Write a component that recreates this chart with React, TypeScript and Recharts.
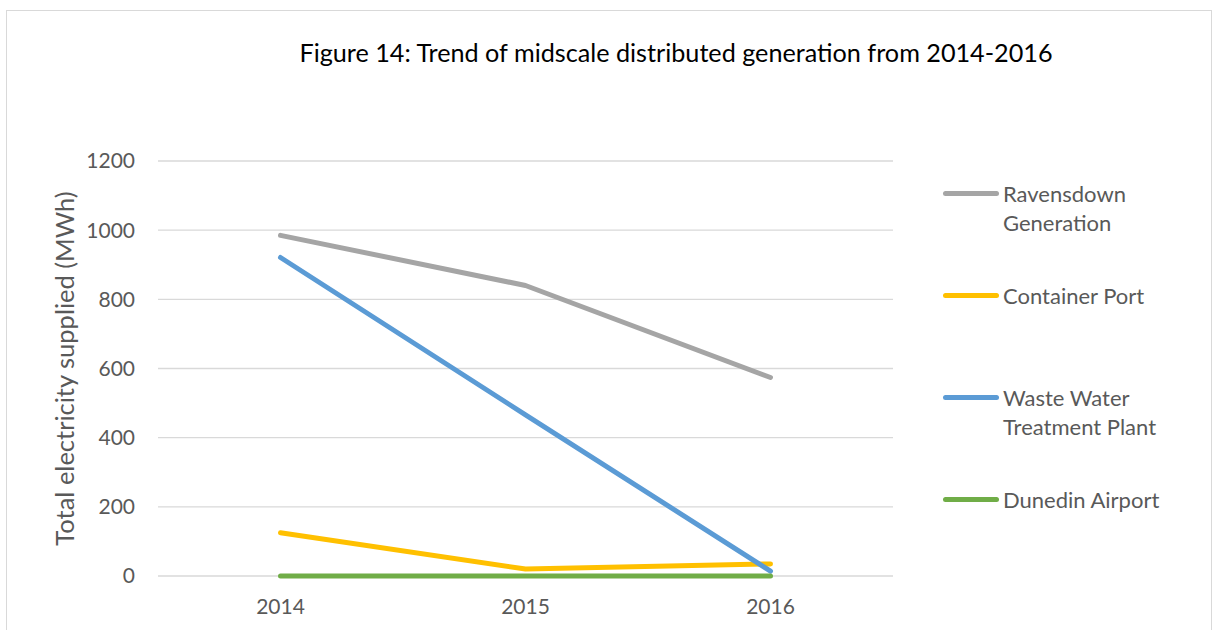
import React from 'react';
import { LineChart, Line, XAxis, YAxis, CartesianGrid, Legend } from 'recharts';

const years = ['2014', '2015', '2016'];
const ravensdown = [985, 840, 574];
const containerPort = [125, 20, 35];
const wasteWater = [921, 466, 14];
const dunedinAirport = [0, 0, 0];
const yTicks = [0, 200, 400, 600, 800, 1000, 1200];

const seriesNames = ['Ravensdown Generation', 'Container Port', 'Waste Water Treatment Plant', 'Dunedin Airport'];
const seriesKeys = ['ravensdown', 'containerPort', 'wasteWater', 'dunedinAirport'];
const seriesColors = ['#A5A5A5', '#FFC000', '#5B9BD5', '#70AD47'];

const data = years.map((y, i) => ({
  year: y,
  ravensdown: ravensdown[i],
  containerPort: containerPort[i],
  wasteWater: wasteWater[i],
  dunedinAirport: dunedinAirport[i],
}));

const FONT = 'Lato, "Open Sans", sans-serif';

const renderLegend = () => (
  <div style={{ position: 'relative', width: 260, height: 360 }}>
    {seriesNames.map((name, i) => (
      <div
        key={name}
        style={{
          position: 'absolute',
          left: 0,
          top: i * 102,
          display: 'flex',
          alignItems: 'flex-start',
          fontFamily: FONT,
          fontSize: 22,
          lineHeight: '29px',
          color: '#595959',
        }}
      >
        <div
          style={{
            width: 56,
            height: 5,
            borderRadius: 3,
            background: seriesColors[i],
            marginTop: 12,
            marginRight: 4,
            flex: 'none',
          }}
        />
        <div style={{ width: 175 }}>{name}</div>
      </div>
    ))}
  </div>
);

export default function App() {
  return (
    <div style={{ position: 'absolute', left: 0, top: 0, width: 1218, height: 630, background: '#fff', overflow: 'hidden' }}>
      <div
        style={{
          position: 'absolute',
          left: 6,
          top: 10,
          width: 1206,
          height: 700,
          border: '1.5px solid #D9D9D9',
          boxSizing: 'border-box',
        }}
      />
      <div
        style={{
          position: 'absolute',
          left: 676,
          top: 40,
          transform: 'translateX(-50%)',
          whiteSpace: 'nowrap',
          fontFamily: FONT,
          fontSize: 25.2,
          lineHeight: '25px',
          color: '#000',
        }}
      >
        Figure 14: Trend of midscale distributed generation from 2014-2016
      </div>
      <div style={{ position: 'absolute', left: 0, top: 0 }}>
        <LineChart width={1218} height={630} data={data} margin={{ top: 161, right: 65, bottom: 0, left: 0 }}>
          <CartesianGrid vertical={false} stroke="#D9D9D9" strokeWidth={1.3} />
          <XAxis
            dataKey="year"
            height={54}
            padding={{ left: 122.5, right: 122.5 }}
            tickLine={false}
            axisLine={false}
            tick={{ fill: '#595959', fontSize: 21, fontFamily: FONT }}
            tickMargin={17}
          />
          <YAxis
            width={158}
            domain={[0, 1200]}
            ticks={yTicks}
            tickLine={false}
            axisLine={false}
            tick={{ fill: '#595959', fontSize: 21, fontFamily: FONT }}
            tickMargin={17}
            label={{
              value: 'Total electricity supplied (MWh)',
              angle: -90,
              position: 'center',
              dx: -14,
              dy: 0,
              style: { fill: '#595959', fontSize: 25.5, fontFamily: FONT },
            }}
          />
          <Legend
            layout="vertical"
            verticalAlign="top"
            align="right"
            content={renderLegend}
            wrapperStyle={{ position: 'absolute', left: 943, top: 178.5, width: 260 }}
          />
          {seriesKeys.map((k, i) => (
            <Line
              key={k}
              dataKey={k}
              name={seriesNames[i]}
              stroke={seriesColors[i]}
              strokeWidth={5}
              strokeLinecap="round"
              strokeLinejoin="round"
              dot={false}
              activeDot={false}
              isAnimationActive={false}
            />
          ))}
        </LineChart>
      </div>
    </div>
  );
}
